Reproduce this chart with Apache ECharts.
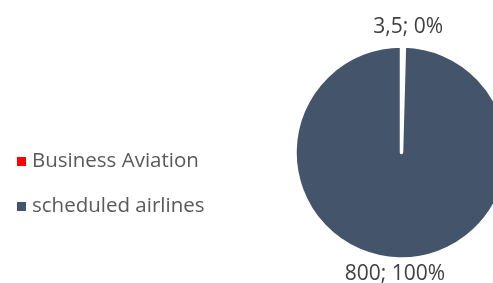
<!DOCTYPE html>
<html><head><meta charset="utf-8">
<script src="https://cdn.jsdelivr.net/npm/echarts@6/dist/echarts.min.js"></script>
<style>html,body{margin:0;padding:0;background:#fff}#c{width:493px;height:283px}</style>
</head><body><div id="c"></div>
<script>
const categories = ["Business Aviation", "scheduled airlines"];
const values = [3.5, 800];
const colors = ["#FF0000", "#44546A"];

const total = values.reduce((a, b) => a + b, 0);
const chart = echarts.init(document.getElementById('c'), null, {renderer: 'canvas'});
chart.setOption({
  animation: false,
  legend: {
    orient: 'vertical', left: 12, top: 146,
    itemWidth: 9, itemHeight: 9, itemGap: 24, icon: 'rect',
    itemStyle: {borderWidth: 0},
    textStyle: {fontFamily: 'Open Sans', fontSize: 20.5, color: '#595959', padding: [0, 0, 0, 1]},
    data: categories
  },
  series: [{
    type: 'pie',
    center: [401.5, 152.5],
    radius: [0, 106.5],
    startAngle: 90,
    clockwise: true,
    itemStyle: {borderColor: '#fff', borderWidth: 3.5},
    label: {
      show: true, position: 'outside',
      fontFamily: 'Open Sans', fontSize: 21, color: '#404040',
      formatter: p => String(p.value).replace('.', ',') + '; ' + Math.round(p.value / total * 100) + '%'
    },
    labelLayout: {align: 'center'},
    data: categories.map((n, i) => ({
      name: n, value: values[i], itemStyle: {color: colors[i]},
      labelLine: {show: false, length: i === 0 ? 19 : 15, length2: 0}
    }))
  }]
});
</script></body></html>
